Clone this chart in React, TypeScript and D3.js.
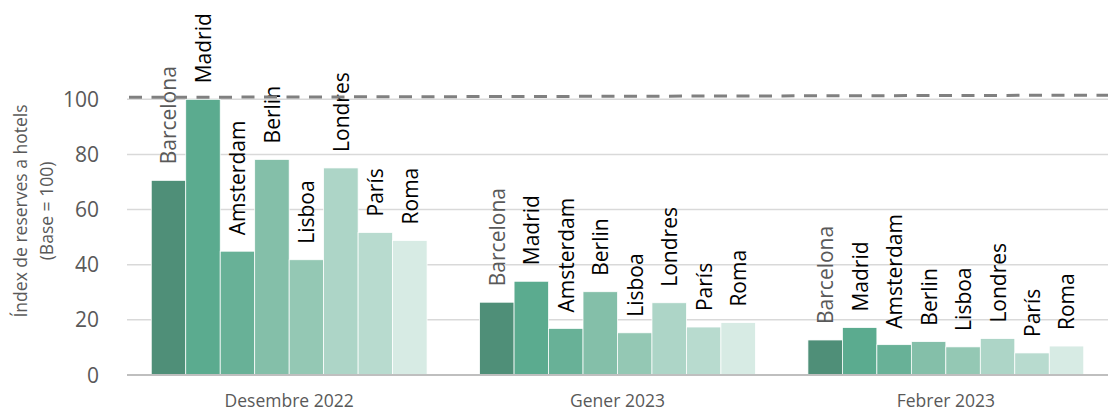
import React from "react";
import * as d3 from "d3";

const months = ["Desembre 2022", "Gener 2023", "Febrer 2023"];
const cities = ["Barcelona", "Madrid", "Amsterdam", "Berlin", "Lisboa", "Londres", "París", "Roma"];
const dec2022 = [70.6, 100, 44.9, 78.2, 41.8, 75.1, 51.7, 48.8];
const jan2023 = [26.4, 34.0, 16.9, 30.2, 15.3, 26.2, 17.4, 19.0];
const feb2023 = [12.7, 17.2, 11.0, 12.1, 10.2, 13.2, 8.0, 10.5];
const seriesByMonth = [dec2022, jan2023, feb2023];
const yTicks = [0, 20, 40, 60, 80, 100];
const refLine = [100.7, 101.5];
const cityColors = ["#4f8f78", "#5bab8f", "#68b197", "#84bfa9", "#94c8b4", "#add5c7", "#b8dbcf", "#d7ebe4"];
const labelColors = ["#595959", "#000", "#000", "#000", "#000", "#000", "#000", "#000"];

export default function App() {
  const W = 1112, H = 412;
  const left = 125, right = 1110;
  const x0 = d3.scaleBand<string>().domain(months).range([left, right]).paddingInner(0.16).paddingOuter(0.08);
  const x1 = d3.scaleBand<string>().domain(cities).range([0, x0.bandwidth()]);
  const y = d3.scaleLinear().domain([0, 100]).range([375, 99.3]);
  const refX = d3.scaleLinear().domain([0, 1]).range([129, 1108]);
  const line = d3.line<number>().x((_, i) => refX(i)).y((d) => y(d));
  const font = "'Open Sans', sans-serif";

  return (
    <svg width={W} height={H} style={{ position: "absolute", left: 0, top: 0 }} fontFamily={font}>
      <rect width={W} height={H} fill="#fff" />
      {yTicks.filter((t) => t > 0).map((t) => (
        <line key={t} x1={127} x2={1108} y1={y(t)} y2={y(t)} stroke="#d9d9d9" strokeWidth={1.5} />
      ))}
      {yTicks.map((t) => (
        <text key={"t" + t} x={99} y={y(t)} dy="0.36em" textAnchor="end" fontSize={21} fill="#595959">
          {t}
        </text>
      ))}
      <g transform="translate(0,211) rotate(-90)" fill="#595959" fontSize={17.5} textAnchor="middle">
        <text x={0} y={27}>Índex de reserves a hotels</text>
        <text x={0} y={53}>(Base = 100)</text>
      </g>
      {months.map((m, mi) => (
        <g key={m} transform={`translate(${x0(m)},0)`}>
          {seriesByMonth[mi].map((v, ci) => (
            <rect
              key={cities[ci]}
              x={x1(cities[ci])}
              y={y(v)}
              width={x1.bandwidth()}
              height={y(0) - y(v)}
              fill={cityColors[ci]}
              stroke="#fff"
              strokeWidth={0.75}
            />
          ))}
          {seriesByMonth[mi].map((v, ci) => {
            const cx = (x1(cities[ci]) as number) + x1.bandwidth() / 2;
            const ty = y(v) - 16;
            return (
              <text
                key={"l" + cities[ci]}
                transform={`translate(${cx},${ty}) rotate(-90)`}
                dy="0.38em"
                fontSize={21}
                fill={labelColors[ci]}
              >
                {cities[ci]}
              </text>
            );
          })}
          <text x={x0.bandwidth() / 2} y={407} textAnchor="middle" fontSize={17.5} fill="#595959">
            {m}
          </text>
        </g>
      ))}
      <line x1={127} x2={1108} y1={y(0)} y2={y(0)} stroke="#bfbfbf" strokeWidth={2} />
      <path d={line(refLine) || ""} fill="none" stroke="#808080" strokeWidth={3} strokeDasharray="13,9.5" />
    </svg>
  );
}
